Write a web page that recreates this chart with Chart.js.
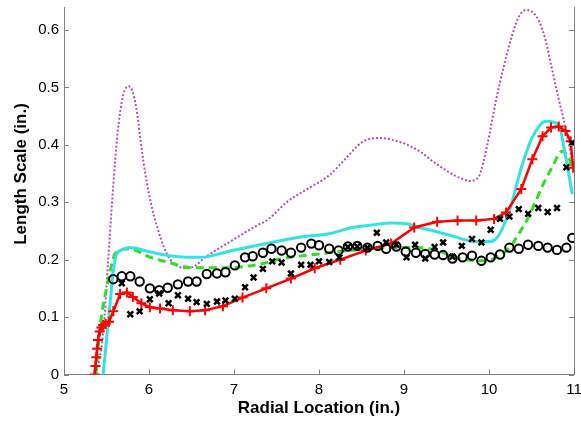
<!DOCTYPE html>
<html>
<head>
<meta charset="utf-8">
<script src="https://cdn.jsdelivr.net/npm/chart.js@4/dist/chart.umd.min.js"></script>
<style>
  html, body { margin: 0; padding: 0; background: #fff; }
  #wrap { width: 581px; height: 423px; }
</style>
</head>
<body>
<div id="wrap"><canvas id="chart" width="581" height="423"></canvas></div>
<script>
// purple dotted curve
const purpleX = [5.37, 5.42, 5.46, 5.52, 5.58, 5.63, 5.68, 5.72, 5.76, 5.8, 5.85, 5.93, 6.02, 6.1, 6.18, 6.25, 6.35, 6.45, 6.55, 6.66, 6.85, 7.05, 7.25, 7.4, 7.62, 7.85, 8.12, 8.32, 8.51, 8.71, 8.95, 9.18, 9.35, 9.5, 9.65, 9.77, 9.88, 9.98, 10.08, 10.18, 10.27, 10.36, 10.44, 10.52, 10.59, 10.67, 10.74, 10.82, 10.9, 10.98];
const purpleY = [0, 0.03, 0.07, 0.2, 0.33, 0.42, 0.475, 0.497, 0.502, 0.495, 0.465, 0.375, 0.3, 0.255, 0.22, 0.2, 0.188, 0.185, 0.19, 0.204, 0.222, 0.24, 0.258, 0.27, 0.3, 0.322, 0.347, 0.377, 0.405, 0.412, 0.405, 0.389, 0.37, 0.355, 0.343, 0.337, 0.345, 0.4, 0.476, 0.54, 0.59, 0.625, 0.635, 0.63, 0.615, 0.58, 0.533, 0.48, 0.43, 0.37];

// cyan solid curve
const cyanX = [5.46, 5.5, 5.54, 5.58, 5.62, 5.7, 5.77, 6.0, 6.24, 6.48, 6.6, 6.98, 7.38, 7.77, 8.12, 8.39, 8.6, 8.86, 9.05, 9.18, 9.35, 9.53, 9.8, 9.96, 10.08, 10.24, 10.38, 10.5, 10.67, 10.82, 10.9, 10.98];
const cyanY = [0, 0.06, 0.12, 0.18, 0.21, 0.218, 0.221, 0.214, 0.207, 0.204, 0.204, 0.216, 0.228, 0.239, 0.245, 0.256, 0.26, 0.264, 0.262, 0.256, 0.25, 0.243, 0.232, 0.231, 0.236, 0.285, 0.36, 0.41, 0.441, 0.435, 0.38, 0.314];

// green dashed curve
const greenX = [5.375, 5.42, 5.46, 5.5, 5.55, 5.6, 5.7, 5.77, 6.0, 6.24, 6.5, 6.9, 7.3, 7.57, 8.0, 8.36, 8.83, 9.18, 9.3, 9.45, 9.57, 9.96, 10.12, 10.25, 10.35, 10.45, 10.55, 10.65, 10.74, 10.86, 10.93, 10.98];
const greenY = [0, 0.077, 0.12, 0.15, 0.185, 0.21, 0.218, 0.219, 0.205, 0.195, 0.186, 0.186, 0.192, 0.202, 0.21, 0.216, 0.221, 0.221, 0.219, 0.213, 0.205, 0.198, 0.207, 0.222, 0.245, 0.27, 0.302, 0.335, 0.36, 0.389, 0.38, 0.36];

// red line with + markers
const redX = [5.36, 5.37, 5.38, 5.39, 5.4, 5.42, 5.44, 5.46, 5.49, 5.53, 5.58, 5.66, 5.74, 5.81, 5.91, 6.01, 6.13, 6.28, 6.48, 6.66, 6.87, 7.1, 7.38, 7.67, 7.95, 8.25, 8.55, 8.85, 9.12, 9.39, 9.63, 9.85, 10.06, 10.2, 10.38, 10.51, 10.63, 10.73, 10.82, 10.9, 10.96, 10.99];
const redY = [0, 0.015, 0.03, 0.045, 0.06, 0.075, 0.082, 0.086, 0.088, 0.092, 0.11, 0.14, 0.143, 0.135, 0.124, 0.117, 0.115, 0.112, 0.11, 0.112, 0.119, 0.134, 0.15, 0.167, 0.185, 0.2, 0.216, 0.228, 0.256, 0.266, 0.268, 0.268, 0.271, 0.282, 0.323, 0.375, 0.415, 0.43, 0.432, 0.424, 0.406, 0.36];

// black circle markers
const circX = [5.58, 5.68, 5.78, 5.89, 6.01, 6.12, 6.22, 6.34, 6.46, 6.56, 6.68, 6.8, 6.9, 7.01, 7.13, 7.22, 7.34, 7.44, 7.56, 7.67, 7.79, 7.91, 8.0, 8.12, 8.23, 8.34, 8.45, 8.57, 8.69, 8.79, 8.91, 9.02, 9.14, 9.25, 9.36, 9.46, 9.57, 9.69, 9.8, 9.91, 10.02, 10.13, 10.24, 10.35, 10.46, 10.58, 10.69, 10.8, 10.91, 10.98];
const circY = [0.166, 0.171, 0.171, 0.162, 0.15, 0.147, 0.151, 0.157, 0.162, 0.162, 0.175, 0.176, 0.178, 0.19, 0.204, 0.206, 0.212, 0.219, 0.216, 0.212, 0.221, 0.228, 0.225, 0.219, 0.216, 0.223, 0.224, 0.221, 0.224, 0.219, 0.223, 0.214, 0.212, 0.21, 0.209, 0.208, 0.202, 0.204, 0.207, 0.198, 0.204, 0.209, 0.221, 0.219, 0.226, 0.224, 0.221, 0.217, 0.221, 0.238];

// black x markers
const crossX = [5.68, 5.78, 5.89, 6.01, 6.12, 6.23, 6.34, 6.46, 6.56, 6.68, 6.8, 6.9, 7.01, 7.13, 7.23, 7.34, 7.45, 7.56, 7.67, 7.79, 7.9, 8.0, 8.12, 8.24, 8.34, 8.45, 8.57, 8.68, 8.79, 8.91, 9.03, 9.13, 9.25, 9.36, 9.46, 9.57, 9.68, 9.8, 9.91, 10.02, 10.13, 10.24, 10.35, 10.46, 10.58, 10.69, 10.8, 10.91, 10.98];
const crossY = [0.159, 0.105, 0.11, 0.131, 0.141, 0.124, 0.138, 0.132, 0.126, 0.123, 0.127, 0.129, 0.132, 0.152, 0.169, 0.184, 0.197, 0.195, 0.176, 0.191, 0.191, 0.197, 0.196, 0.204, 0.222, 0.223, 0.221, 0.247, 0.23, 0.226, 0.204, 0.226, 0.202, 0.222, 0.23, 0.205, 0.224, 0.236, 0.23, 0.252, 0.271, 0.275, 0.288, 0.28, 0.29, 0.283, 0.29, 0.361, 0.403];

const xTicks = [5, 6, 7, 8, 9, 10, 11];
const yTicks = [0, 0.1, 0.2, 0.3, 0.4, 0.5, 0.6];
const yTitle = 'Length Scale (in.)';

const pts = (xs, ys) => xs.map((x, i) => ({ x, y: ys[i] }));
const axisGray = '#808080';
const FONT = 'Liberation Sans, Arial, sans-serif';

// matlab style ticks pointing into the plot, plus the y label
const innerTicks = {
  id: 'innerTicks',
  afterDraw(chart) {
    const { ctx, chartArea: a, scales } = chart;
    ctx.save();
    ctx.strokeStyle = axisGray;
    ctx.lineWidth = 1;
    ctx.beginPath();
    xTicks.forEach(v => {
      const px = Math.round(scales.x.getPixelForValue(v)) + 0.5;
      ctx.moveTo(px, a.bottom);
      ctx.lineTo(px, a.bottom - 5);
    });
    yTicks.forEach(v => {
      const py = Math.round(scales.y.getPixelForValue(v)) + 0.5;
      ctx.moveTo(a.left, py);
      ctx.lineTo(a.left + 5, py);
      ctx.moveTo(a.right, py);
      ctx.lineTo(a.right - 5, py);
    });
    ctx.stroke();

    ctx.translate(21, 174);
    ctx.rotate(-Math.PI / 2);
    ctx.fillStyle = '#000';
    ctx.font = 'bold 17px ' + FONT;
    ctx.textAlign = 'center';
    ctx.textBaseline = 'middle';
    ctx.fillText(yTitle, 0, 0);
    ctx.restore();
  }
};

new Chart(document.getElementById('chart'), {
  type: 'scatter',
  data: {
    datasets: [
      {
        label: 'circles',
        data: pts(circX, circY),
        showLine: false,
        pointStyle: 'circle',
        pointRadius: 4.2,
        borderColor: '#000',
        backgroundColor: 'rgba(0,0,0,0)',
        borderWidth: 2,
        order: 2
      },
      {
        label: 'crosses',
        data: pts(crossX, crossY),
        showLine: false,
        pointStyle: 'crossRot',
        pointRadius: 4,
        borderColor: '#000',
        borderWidth: 2.5,
        order: 1
      },
      {
        label: 'red',
        data: pts(redX, redY),
        showLine: true,
        borderColor: '#ff0000',
        borderWidth: 2.5,
        pointStyle: 'cross',
        pointRadius: 5,
        pointBorderWidth: 2,
        pointBorderColor: '#ff0000',
        tension: 0,
        order: 3
      },
      {
        label: 'cyan',
        data: pts(cyanX, cyanY),
        showLine: true,
        borderColor: '#33e3e3',
        borderWidth: 3,
        pointRadius: 0,
        cubicInterpolationMode: 'monotone',
        order: 4
      },
      {
        label: 'green',
        data: pts(greenX, greenY),
        showLine: true,
        borderColor: '#33dd22',
        borderWidth: 3,
        borderDash: [8, 5],
        pointRadius: 0,
        cubicInterpolationMode: 'monotone',
        order: 5
      },
      {
        label: 'purple',
        data: pts(purpleX, purpleY),
        showLine: true,
        borderColor: '#b050b8',
        borderWidth: 2,
        borderDash: [2, 2],
        pointRadius: 0,
        cubicInterpolationMode: 'monotone',
        order: 6
      }
    ]
  },
  options: {
    responsive: false,
    animation: false,
    layout: { padding: { top: 6, right: 6, left: 0, bottom: 0 } },
    plugins: { legend: { display: false }, tooltip: { enabled: false } },
    scales: {
      x: {
        type: 'linear',
        min: 5,
        max: 11,
        grid: { display: false, drawTicks: false },
        border: { display: true, color: axisGray, width: 1 },
        ticks: { stepSize: 1, padding: 6, color: '#000', font: { family: FONT, size: 15 } },
        title: {
          display: true,
          text: 'Radial Location (in.)',
          color: '#000',
          font: { family: FONT, size: 17, weight: 'bold' },
          padding: { top: 0, bottom: 4 }
        },
        afterFit(scale) {
          scale.height = 48.5;
          scale.paddingLeft = 0;
          scale.paddingRight = 0;
        }
      },
      y: {
        type: 'linear',
        min: 0,
        max: 0.64,
        grid: { display: false, drawTicks: false },
        border: { display: true, color: axisGray, width: 1 },
        afterBuildTicks(scale) {
          scale.ticks = yTicks.map(v => ({ value: v }));
        },
        ticks: {
          padding: 5,
          color: '#000',
          font: { family: FONT, size: 15 },
          callback: v => String(Math.round(v * 10) / 10)
        },
        afterFit(scale) {
          scale.width = 64;
          scale.paddingTop = 0;
          scale.paddingBottom = 0;
        }
      },
      y2: {
        type: 'linear',
        position: 'right',
        min: 0,
        max: 0.64,
        grid: { display: false, drawTicks: false },
        border: { display: true, color: axisGray, width: 1 },
        ticks: { display: false },
        afterFit(scale) {
          scale.width = 0;
          scale.paddingTop = 0;
          scale.paddingBottom = 0;
        }
      }
    }
  },
  plugins: [innerTicks]
});
</script>
</body>
</html>
